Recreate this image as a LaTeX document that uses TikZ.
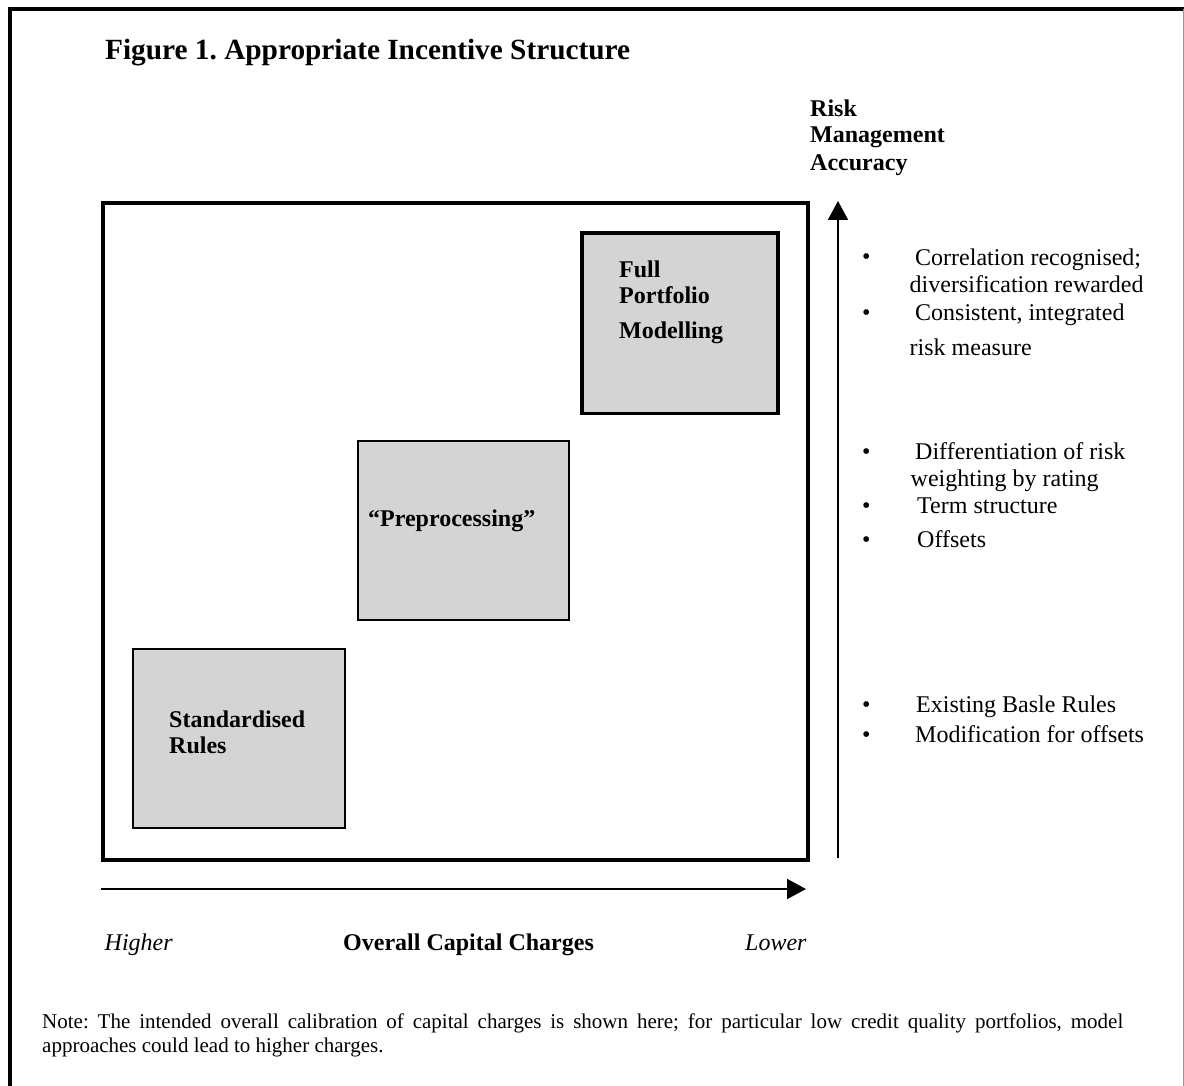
\documentclass[tikz,border=0pt]{standalone}
\usepackage{fontspec}
\setmainfont{Liberation Serif}
\usetikzlibrary{arrows.meta}
\frenchspacing
\definecolor{boxgray}{RGB}{212,212,212}
\definecolor{edgegray}{RGB}{150,150,150}
\tikzset{
  txt/.style={anchor=base west, inner sep=0pt, font=\fontsize{24}{27}\selectfont},
  btxt/.style={anchor=base west, inner sep=0pt, font=\fontsize{24}{27}\selectfont\bfseries},
  itxt/.style={anchor=base west, inner sep=0pt, font=\fontsize{24}{27}\selectfont\itshape},
  graybox/.style={draw=black, fill=boxgray, line width=2pt, anchor=north west, inner sep=0pt},
  axis/.style={line width=2pt, -{Triangle[length=19pt,width=20pt]}},
}
\begin{document}
\frenchspacing
\begin{tikzpicture}[x=1pt,y=-1pt]
\useasboundingbox (0,0) rectangle (1184,1086);
% outer border
\coordinate (obl) at (9.5,1090);
\coordinate (otl) at (9.5,8.7);
\coordinate (otr) at (1183.5,8.7);
\coordinate (obr) at (1183.5,1090);
\draw[line width=4pt] (obl) -- (otl) -- (otr);
\draw[edgegray, line width=1pt] (otr) -- (obr);
% title
\node[anchor=base west, inner sep=0pt, font=\fontsize{29.3}{32}\selectfont\bfseries] (title) at (105,60) {Figure 1. Appropriate Incentive Structure};
% main frame
\node[draw=black, line width=4pt, anchor=north west, inner sep=0pt, minimum width=705pt, minimum height=657pt] (frame) at (101,201) {};
% boxes
\node[graybox, line width=3.5pt, minimum width=196pt, minimum height=180pt] (fpm) at (580,231.5) {};
\node[graybox, minimum width=211pt, minimum height=179pt] (pre) at (357,440) {};
\node[graybox, minimum width=212pt, minimum height=179pt] (std) at (132,648) {};
\node[btxt] (fpm1) at (619,278) {Full};
\node[btxt] (fpm2) at (619,303) {Portfolio};
\node[btxt] (fpm3) at (619,338) {Modelling};
\node[btxt] (pre1) at (368,526) {“Preprocessing”};
\node[btxt] (std1) at (169,727) {Standardised};
\node[btxt] (std2) at (169,753) {Rules};
% vertical axis
\node[btxt] (ylab1) at (810,117) {Risk};
\node[btxt] (ylab2) at (810,143) {Management};
\node[btxt] (ylab3) at (810,171) {Accuracy};
\coordinate (ys) at (838,858);
\coordinate (ye) at (838,201);
\draw[axis] (ys) -- (ye);
% horizontal axis
\coordinate (xs) at (101,889);
\coordinate (xe) at (806,889);
\draw[axis] (xs) -- (xe);
\node[itxt] (hi) at (104.5,950.5) {Higher};
\node[btxt] (xlab) at (343,950.5) {Overall Capital Charges};
\node[itxt] (lo) at (745,950.5) {Lower};
% bullets
\foreach \yy/\nm in {265/b1,320/b2,459/b3,513/b4,547/b5,712/b6,742.5/b7}
  \node[txt] (\nm) at (862,\yy) {•};
\node[txt] (t1) at (915,265.5) {Correlation recognised;};
\node[txt] (t1b) at (909.5,292) {diversification rewarded};
\node[txt] (t2) at (915,320) {Consistent, integrated};
\node[txt] (t2b) at (909.5,355) {risk measure};
\node[txt] (t3) at (915,459) {Differentiation of risk};
\node[txt] (t3b) at (910.5,486) {weighting by rating};
\node[txt] (t4) at (917,513) {Term structure};
\node[txt] (t5) at (917,547) {Offsets};
\node[txt] (t6) at (916,712) {Existing Basle Rules};
\node[txt] (t7) at (915,742.5) {Modification for offsets};
% note
\node[anchor=base west, inner sep=0pt, font=\fontsize{21}{23}\selectfont] (note1) at (42,1028.5) {\makebox[1081pt][s]{Note: The intended overall calibration of capital charges is shown here; for particular low credit quality portfolios, model}};
\node[anchor=base west, inner sep=0pt, font=\fontsize{21}{23}\selectfont] (note2) at (42,1052) {approaches could lead to higher charges.};
\end{tikzpicture}
\end{document}
